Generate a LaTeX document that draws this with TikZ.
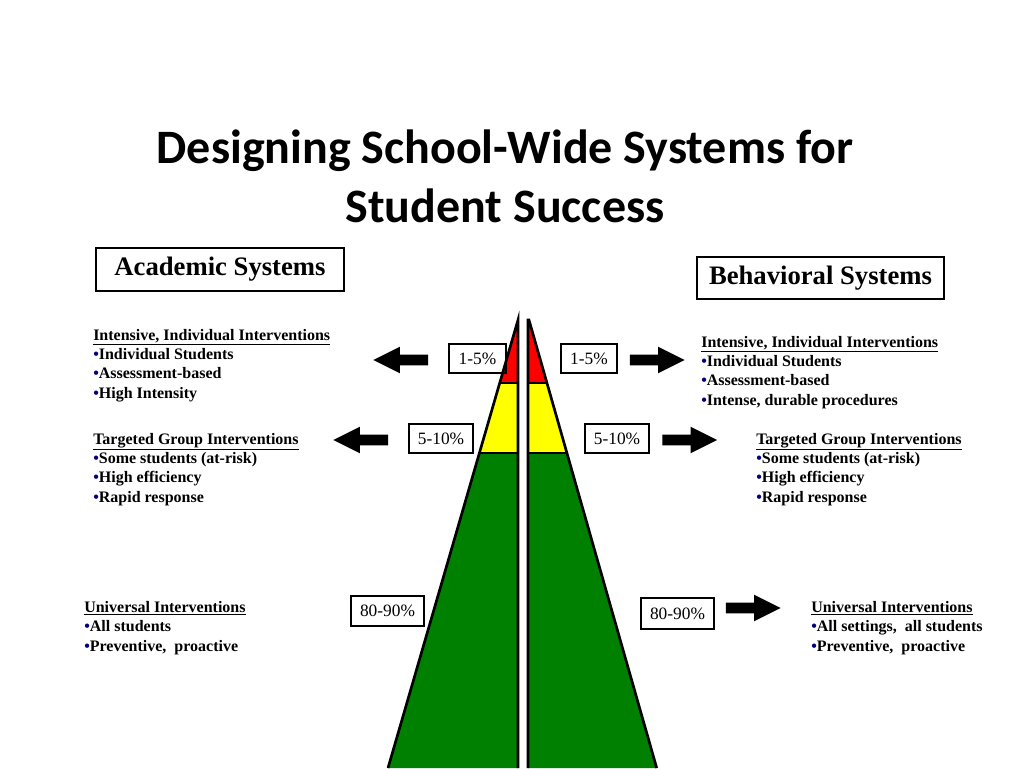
\documentclass[tikz,border=0pt]{standalone}
\usepackage{fontspec}
\setmainfont{Liberation Serif}
\newfontfamily\titlefont{Carlito}
\usetikzlibrary{positioning, shapes.arrows}

\definecolor{pyrred}{RGB}{255,0,0}
\definecolor{pyryellow}{RGB}{255,255,0}
\definecolor{pyrgreen}{RGB}{0,128,0}
\definecolor{bulletnavy}{RGB}{0,0,128}

% small navy bullet in front of each item
\newcommand{\bul}{{\color{bulletnavy}\textbullet}}

\begin{document}
\begin{tikzpicture}[
    x=0.75pt, y=-0.75pt,    % 1 unit = 1 pixel of the slide
    % thick outline of the two pyramid halves
    pyr_line/.style={line width=2pt, line join=miter},
    % boxes with the system names
    head_box/.style={draw, line width=0.8pt, inner sep=0pt,
        font=\fontsize{20}{24}\selectfont\bfseries},
    % small boxes with the percentages
    pct_box/.style={draw, line width=0.8pt, inner sep=0pt,
        font=\fontsize{13}{15}\selectfont},
    % lists of interventions (placed by the baseline of their last line)
    info_text/.style={align=left, inner sep=0pt, anchor=base west,
        font=\fontsize{12}{14.5}\selectfont\bfseries},
    % black block arrows
    block_arrow/.style={single arrow, fill=black, inner sep=3.75pt,
        minimum height=41pt, single arrow head extend=6pt,
        single arrow tip angle=53},
    arrow_left/.style={block_arrow, shape border rotate=180},
    arrow_right/.style={block_arrow}
]
    \useasboundingbox (0,0) rectangle (1024,768);

    % --- 1. title ---
    \node [anchor=base, align=center, inner sep=0pt,
           font=\titlefont\fontsize{36}{44}\selectfont\bfseries] (title) at (505,222)
        {Designing School-Wide Systems for\\Student Success};

    % --- 2. system headers ---
    \node [head_box, minimum width=186pt, minimum height=32.25pt] (acad) at (220,269.5) {Academic Systems};
    \node [head_box, minimum width=185.25pt, minimum height=31.5pt] (behav) at (820.5,278) {Behavioral Systems};

    % --- 3. pyramid, left half ---
    \fill [pyrred] (518,320) -- (499.7,383) -- (518,383) -- cycle;
    \fill [pyryellow] (499.7,383) -- (479.4,453) -- (518,453) -- (518,383) -- cycle;
    \fill [pyrgreen] (479.4,453) -- (388,768) -- (518,768) -- (518,453) -- cycle;
    \draw [pyr_line] (388,768) -- (518,320) -- (518,768);
    \draw [pyr_line] (499.7,383) -- (518,383) (479.4,453) -- (518,453);

    % --- 4. pyramid, right half ---
    \fill [pyrred] (528,320) -- (529,320) -- (547,383) -- (528,383) -- cycle;
    \fill [pyryellow] (528,383) -- (547,383) -- (566.9,453) -- (528,453) -- cycle;
    \fill [pyrgreen] (528,453) -- (566.9,453) -- (656.7,768) -- (528,768) -- cycle;
    \draw [pyr_line] (656.7,768) -- (529,320) -- (528,320) -- (528,768);
    \draw [pyr_line] (528,383) -- (547,383) (528,453) -- (566.9,453);

    % --- 5. percentage boxes ---
    \node [pct_box, minimum width=42.75pt, minimum height=21.75pt] (pctL1) at (477.5,358.5) {1-5\%};
    \node [pct_box, minimum width=42pt, minimum height=21.75pt] (pctR1) at (589,358.5) {1-5\%};
    \node [pct_box, minimum width=48pt, minimum height=21.75pt] (pctL2) at (441,438.5) {5-10\%};
    \node [pct_box, minimum width=48pt, minimum height=21.75pt] (pctR2) at (617,438.5) {5-10\%};
    \node [pct_box, minimum width=54.75pt, minimum height=22.5pt] (pctL3) at (387.5,611) {80-90\%};
    \node [pct_box, minimum width=54.75pt, minimum height=23.25pt] (pctR3) at (677.5,613.5) {80-90\%};

    % --- 6. block arrows ---
    \node [arrow_left] (arrL1) at (406,360) {};
    \node [arrow_right] (arrR1) at (652,360) {};
    \node [arrow_left] (arrL2) at (366,440) {};
    \node [arrow_right] (arrR2) at (684.5,440) {};
    \node [arrow_right] (arrR3) at (748,608) {};

    % --- 7. academic side texts ---
    \node [info_text] (acadTier3) at (93,398)
        {\underline{Intensive, Individual Interventions}\\
         \bul Individual Students\\
         \bul Assessment-based\\
         \bul High Intensity};
    \node [info_text] (acadTier2) at (93,502)
        {\underline{Targeted Group Interventions}\\
         \bul Some students (at-risk)\\
         \bul High efficiency\\
         \bul Rapid response};
    \node [info_text] (acadTier1) at (84,651)
        {\underline{Universal Interventions}\\
         \bul All students\\
         \bul Preventive, \ proactive};

    % --- 8. behavioral side texts ---
    \node [info_text] (behavTier3) at (701,405)
        {\underline{Intensive, Individual Interventions}\\
         \bul Individual Students\\
         \bul Assessment-based\\
         \bul Intense, durable procedures};
    \node [info_text] (behavTier2) at (756,502)
        {\underline{Targeted Group Interventions}\\
         \bul Some students (at-risk)\\
         \bul High efficiency\\
         \bul Rapid response};
    \node [info_text] (behavTier1) at (811,651)
        {\underline{Universal Interventions}\\
         \bul All settings, \ all students\\
         \bul Preventive, \ proactive};

\end{tikzpicture}
\end{document}
